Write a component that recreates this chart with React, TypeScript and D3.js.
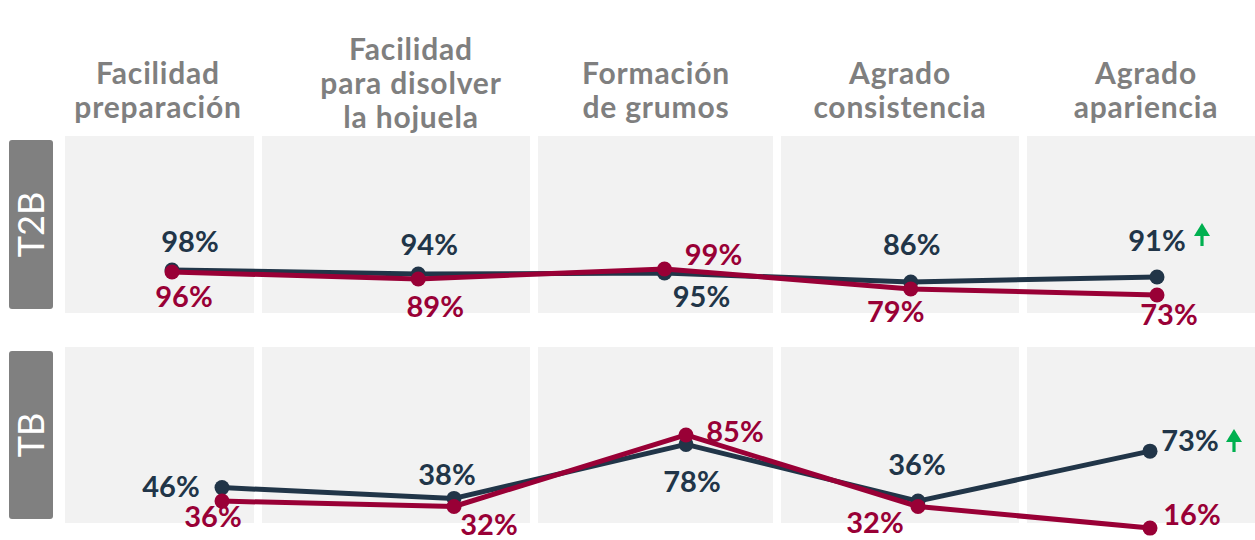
import React from 'react';
import * as d3 from 'd3';

// header text per attribute, one string per line
const categories = [
  ['Facilidad', 'preparación'],
  ['Facilidad', 'para disolver', 'la hojuela'],
  ['Formación', 'de grumos'],
  ['Agrado', 'consistencia'],
  ['Agrado', 'apariencia'],
];
const rowNames = ['T2B', 'TB'];

const t2bDark = [98, 94, 95, 86, 91];
const t2bRed = [96, 89, 99, 79, 73];
const tbDark = [46, 38, 78, 36, 73];
const tbRed = [36, 32, 85, 32, 16];
const upArrow = [false, false, false, false, true];

const DARK = '#213548';
const RED = '#990036';
const FONT = 'Lato, Calibri, sans-serif';

// layout
const W = 1255, H = 540;
const panelX: [number, number][] = [[65, 254], [262, 530], [538, 773], [781, 1019], [1027, 1255]];
const headerX = [158, 411, 656, 900, 1146];
const rows = [
  { top: 136, bottom: 313, xRange: [172, 1157], yRange: [368, 268],
    dark: t2bDark, red: t2bRed,
    darkOff: [[18, -18], [11, -19], [37, 34], [1, -27], [0, -26]],
    redOff: [[12, 35], [17, 38], [49, -4], [-15, 33], [12, 30]],
    arrow: [1202, 223] },
  { top: 347, bottom: 523, xRange: [222, 1150], yRange: [549.7, 414.7],
    dark: tbDark, red: tbRed,
    darkOff: [[-51, 9], [-7, -13], [6, 48], [-1, -26], [40, 0]],
    redOff: [[-9, 26], [35, 28], [49, 7], [-43, 26], [42, -3]],
    arrow: [1234, 429] },
];

const Arrow = ({ x, y }: { x: number; y: number }) => (
  <g fill="#00b050">
    <path d={`M${x},${y} L${x + 8},${y + 13} L${x - 8},${y + 13} Z`} />
    <rect x={x - 1.6} y={y + 12} width={3.2} height={11} />
  </g>
);

const Row = ({ r, name }: { r: typeof rows[0]; name: string }) => {
  const keys = categories.map((_, i) => String(i));
  const x = d3.scalePoint<string>().domain(keys).range(r.xRange as [number, number]);
  const y = d3.scaleLinear().domain([0, 100]).range(r.yRange);
  const line = d3.line<number>().x((_, i) => x(String(i))!).y(d => y(d));
  const series = [
    { vals: r.dark, color: DARK, off: r.darkOff },
    { vals: r.red, color: RED, off: r.redOff },
  ];
  const mid = (r.top + r.bottom) / 2;
  return (
    <g>
      {panelX.map(([a, b], i) => (
        <rect key={i} x={a} y={r.top} width={b - a} height={r.bottom - r.top} fill="#f2f2f2" />
      ))}
      <rect x={9} y={r.top + 4} width={44} height={r.bottom - r.top - 8} rx={3} fill="#808080" />
      <text transform={`translate(31,${mid}) rotate(-90)`} textAnchor="middle" dy="0.36em"
        fill="#fff" fontSize={36} fontFamily={FONT}>{name}</text>
      {series.map((s, si) => (
        <g key={si}>
          <path d={line(s.vals)!} fill="none" stroke={s.color} strokeWidth={5} strokeLinejoin="round" />
          {s.vals.map((v, i) => (
            <circle key={i} cx={x(String(i))} cy={y(v)} r={7.5} fill={s.color} />
          ))}
        </g>
      ))}
      {series.map((s, si) => s.vals.map((v, i) => (
        <text key={`${si}-${i}`} x={x(String(i))! + s.off[i][0]} y={y(v) + s.off[i][1]}
          textAnchor="middle" fill={s.color} fontSize={29} fontWeight={700} fontFamily={FONT}>{v}%</text>
      )))}
      {upArrow.map((u, i) => u ? <Arrow key={i} x={r.arrow[0]} y={r.arrow[1]} /> : null)}
    </g>
  );
};

export default function App() {
  return (
    <div style={{ position: 'absolute', left: 0, top: 0 }}>
      <svg width={W} height={H} style={{ display: 'block', background: '#fff' }}>
        {categories.map((lines, i) => {
          const base = lines.length === 3 ? 60 : 84;
          return (
            <text key={i} textAnchor="middle" fill="#7f7f7f" fontSize={30} fontWeight={700}
              fontFamily={FONT} letterSpacing={0.8}>
              {lines.map((l, j) => (
                <tspan key={j} x={headerX[i]} y={base + j * 34}>{l}</tspan>
              ))}
            </text>
          );
        })}
        {rows.map((r, i) => <Row key={i} r={r} name={rowNames[i]} />)}
      </svg>
    </div>
  );
}
